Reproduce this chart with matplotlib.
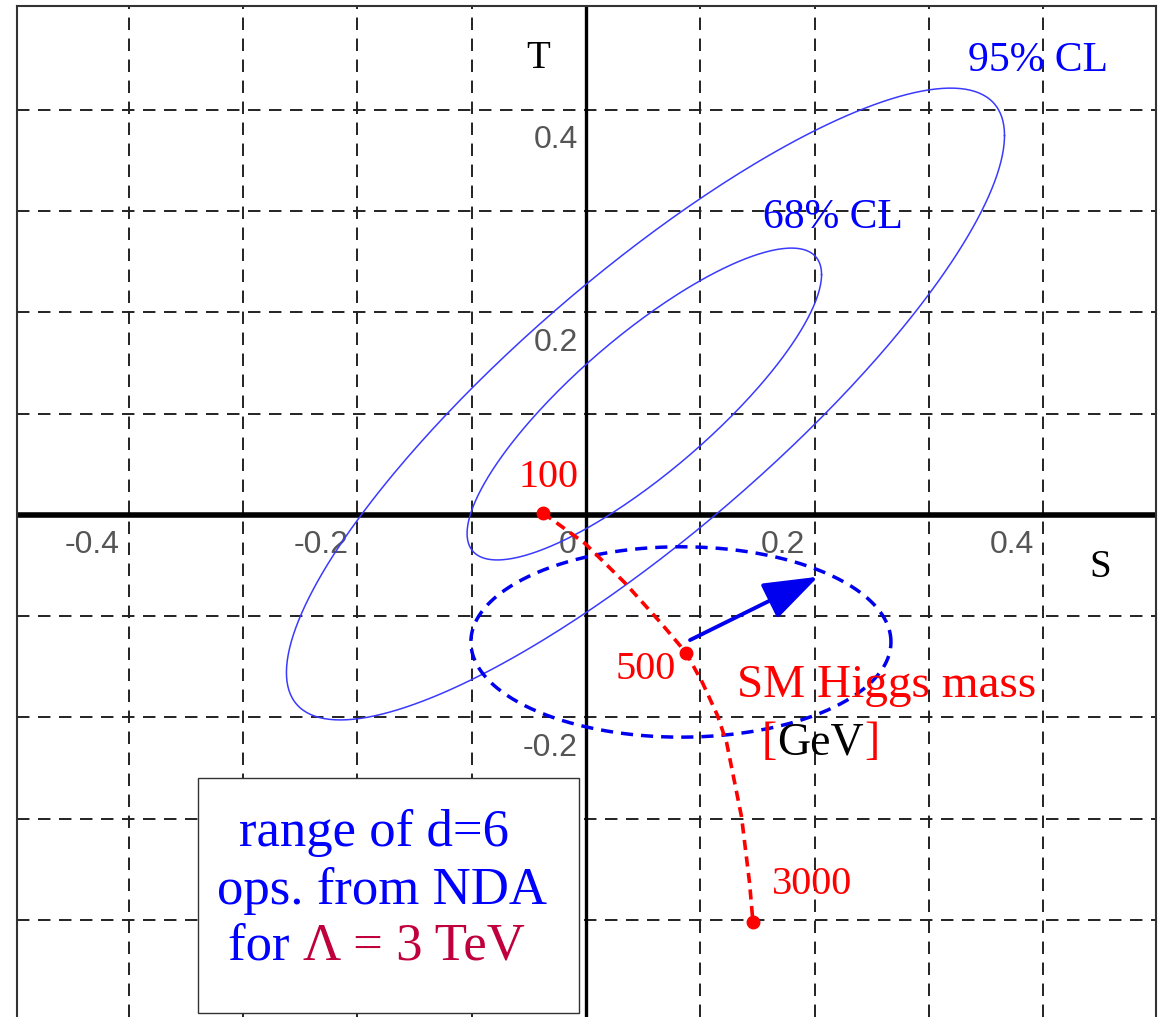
import numpy as np
import matplotlib
matplotlib.use("Agg")
import matplotlib.pyplot as plt
from matplotlib.patches import Rectangle, FancyArrowPatch

# ---- axes ranges and grid ----
s_limits = (-0.4979, 0.4985)
t_limits = (-0.4958, 0.5027)
s_grid = [-0.4, -0.3, -0.2, -0.1, 0.1, 0.2, 0.3, 0.4]
t_grid = [-0.4, -0.3, -0.2, -0.1, 0.1, 0.2, 0.3, 0.4]
s_tick_values = [-0.4, -0.2, 0.0, 0.2, 0.4]
s_tick_labels = ["-0.4", "-0.2", "0", "0.2", "0.4"]
t_tick_values = [0.4, 0.2, -0.2]
t_tick_labels = ["0.4", "0.2", "-0.2"]

# ---- experimental contours: centre, half-extent in S and T, correlation ----
cl_labels = ["68% CL", "95% CL"]
cl_center_S = [0.051, 0.052]
cl_center_T = [0.1096, 0.1096]
cl_half_S = [0.155, 0.314]
cl_half_T = [0.154, 0.312]
cl_rho = [0.83, 0.85]

# ---- SM Higgs trajectory in the S-T plane ----
higgs_path_S = [-0.0376, -0.001, 0.034, 0.065, 0.0875, 0.102, 0.115, 0.123, 0.136, 0.143, 0.146]
higgs_path_T = [0.002, -0.028, -0.067, -0.106, -0.136, -0.166, -0.198, -0.225, -0.298, -0.363, -0.402]
higgs_mass = [100, 500, 3000]
higgs_S = [-0.0376, 0.0875, 0.146]
higgs_T = [0.002, -0.136, -0.402]

# ---- NDA range for d=6 operators ----
nda_center_S = 0.083
nda_center_T = -0.1254
nda_half_S = 0.1837
nda_half_T = 0.094
shift_from = (0.091, -0.1235)
shift_to = (0.203, -0.061)

SERIF = ["Liberation Serif", "DejaVu Serif"]
NARROW = ["Liberation Sans Narrow", "Liberation Sans", "DejaVu Sans"]
BLUE = "#0000ff"
LINE_BLUE = "#3a3aff"
RED = "#ff0000"
CRIMSON = "#c0003c"

fig = plt.figure(figsize=(11.61, 10.17), dpi=100)
ax = fig.add_axes([16.7 / 1161, 0.0, (1156 - 16.7) / 1161, 1 - 6 / 1017])
ax.set_xlim(*s_limits)
ax.set_ylim(*t_limits)
ax.set_xticks([])
ax.set_yticks([])
for side in ("left", "top", "right"):
    ax.spines[side].set_color("#333333")
    ax.spines[side].set_linewidth(1.5)
ax.spines["bottom"].set_visible(False)

# dashed grid
for s in s_grid:
    ax.axvline(s, color="#222222", lw=1.4, ls=(0, (6.4, 4.4)), zorder=1)
for t in t_grid:
    ax.axhline(t, color="#222222", lw=1.4, ls=(0, (6.4, 4.4)), zorder=1)

# coordinate axes through the origin
ax.axhline(0, color="black", lw=4.0, zorder=2)
ax.axvline(0, color="black", lw=2.4, zorder=2)

# tick labels next to the axes
for v, lab in zip(s_tick_values, s_tick_labels):
    ax.text(v - 0.008, -0.030, lab, ha="right", va="center", fontsize=23,
            family=NARROW, color="#555555", zorder=3)
for v, lab in zip(t_tick_values, t_tick_labels):
    ax.text(-0.007, v - 0.030, lab, ha="right", va="center", fontsize=23,
            family=NARROW, color="#555555", zorder=3)

ax.text(-0.042, 0.451, "T", ha="center", va="center", fontsize=28, family=SERIF, color="black")
ax.text(0.4495, -0.0514, "S", ha="center", va="center", fontsize=28, family=SERIF, color="black")

# confidence-level ellipses
theta = np.linspace(0, 2 * np.pi, 400)
for cs, ct, hs, ht, r in zip(cl_center_S, cl_center_T, cl_half_S, cl_half_T, cl_rho):
    s = cs + hs * np.cos(theta)
    t = ct + ht * (r * np.cos(theta) + np.sqrt(1 - r ** 2) * np.sin(theta))
    ax.plot(s, t, color=LINE_BLUE, lw=1.1, zorder=3)
ax.text(0.216, 0.294, cl_labels[0], ha="center", va="center", fontsize=30, family=SERIF, color=BLUE)
ax.text(0.395, 0.449, cl_labels[1], ha="center", va="center", fontsize=30, family=SERIF, color=BLUE)

# NDA ellipse and shift arrow
s = nda_center_S + nda_half_S * np.cos(theta)
t = nda_center_T + nda_half_T * np.sin(theta)
ax.plot(s, t, color="#0000ee", lw=2.5, ls=(0, (3.5, 2.3)), zorder=4)
ax.add_patch(FancyArrowPatch(shift_from, shift_to, arrowstyle="-|>,head_length=1.7,head_width=0.6",
                             mutation_scale=20, color="#0000ee", lw=2.8, shrinkA=0, shrinkB=0, zorder=5))

# SM Higgs line
ax.plot(higgs_path_S, higgs_path_T, color=RED, lw=2.6, ls=(0, (2.8, 1.8)), zorder=4)
ax.plot(higgs_S, higgs_T, "o", color=RED, ms=9, zorder=5)
mass_label_pos = [(-0.033, 0.0375), (0.0525, -0.153), (0.198, -0.365)]
for m, (px, py) in zip(higgs_mass, mass_label_pos):
    ax.text(px, py, str(m), ha="center", va="center", fontsize=29, family=SERIF, color=RED, zorder=6)

ax.text(0.263, -0.169, "SM Higgs mass", ha="center", va="center", fontsize=34, family=SERIF,
        color=RED, zorder=6)
g1 = ax.text(0.154, -0.225, "[", ha="left", va="center", fontsize=33, family=SERIF, color=RED, zorder=6)
g2 = ax.annotate("GeV", xy=(1, 0), xycoords=g1, va="bottom", ha="left", fontsize=33,
                 family=SERIF, color="black", zorder=6)
ax.annotate("]", xy=(1, 0), xycoords=g2, va="bottom", ha="left", fontsize=33,
            family=SERIF, color=RED, zorder=6)

# text box for the NDA estimate
ax.add_patch(Rectangle((-0.3393, -0.4919), 0.3332, 0.2321, facecolor="white",
                       edgecolor="#333333", lw=1.0, zorder=7))
ax.text(-0.185, -0.314, "range of d=6", ha="center", va="center", fontsize=38, family=SERIF,
        color=BLUE, zorder=8)
ax.text(-0.178, -0.371, "ops. from NDA", ha="center", va="center", fontsize=38, family=SERIF,
        color=BLUE, zorder=8)
f1 = ax.text(-0.313, -0.426, "for ", ha="left", va="center", fontsize=38, family=SERIF,
             color=BLUE, zorder=8)
ax.annotate("Λ = 3 TeV", xy=(1, 0), xycoords=f1, va="bottom", ha="left", fontsize=38,
            family=SERIF, color=CRIMSON, zorder=8)

fig.savefig("out.png", dpi=100)
